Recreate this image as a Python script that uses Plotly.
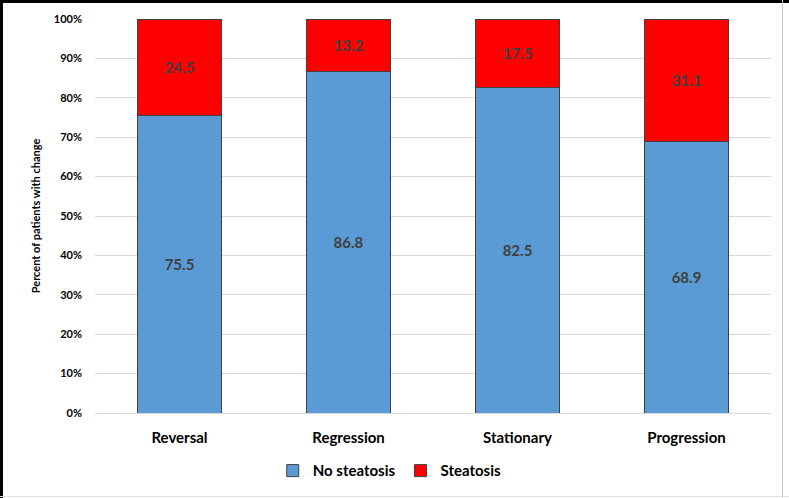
import plotly.graph_objects as go

categories = ["Reversal", "Regression", "Stationary", "Progression"]
no_steatosis = [75.5, 86.8, 82.5, 68.9]
steatosis = [24.5, 13.2, 17.5, 31.1]
y_ticks = [0, 10, 20, 30, 40, 50, 60, 70, 80, 90, 100]

FONT = "Lato, Liberation Sans, sans-serif"
W, H = 789, 498
L, R, T, B = 95, 18, 19, 85

fig = go.Figure()
fig.add_trace(go.Bar(
    x=categories, y=no_steatosis, name="No steatosis",
    marker=dict(color="#5B9BD5", line=dict(color="#404040", width=1)),
    text=[f"{v:.1f}" for v in no_steatosis], textposition="inside",
    insidetextanchor="middle",
    textfont=dict(family=FONT, size=15, color="#404040", weight="bold"),
))
fig.add_trace(go.Bar(
    x=categories, y=steatosis, name="Steatosis",
    marker=dict(color="#FF0000", line=dict(color="#404040", width=1)),
    text=[f"{v:.1f}" for v in steatosis], textposition="inside",
    insidetextanchor="middle",
    textfont=dict(family=FONT, size=15, color="#404040", weight="bold"),
))

fig.update_layout(
    width=W, height=H,
    barmode="stack", bargap=0.5,
    plot_bgcolor="white", paper_bgcolor="white",
    margin=dict(l=L, r=R, t=T, b=B, autoexpand=False),
    font=dict(family=FONT, color="black"),
    uniformtext=dict(mode="show", minsize=8),
    xaxis=dict(
        tickfont=dict(family=FONT, size=15, color="black", weight="bold"),
        showline=False, ticks="", showgrid=False, ticklabelstandoff=14,
    ),
    yaxis=dict(
        range=[0, 100], tickvals=y_ticks,
        ticktext=[f"{v}%" for v in y_ticks],
        tickfont=dict(family=FONT, size=11, color="black", weight="bold"),
        showgrid=True, gridcolor="#D9D9D9", gridwidth=1,
        zeroline=True, zerolinecolor="#D9D9D9", zerolinewidth=1,
        ticks="", ticklen=0, showline=False, ticklabelstandoff=12,
        title=dict(text="Percent of patients with change",
                   font=dict(family=FONT, size=11, color="black", weight="bold"),
                   standoff=10),
    ),
    legend=dict(
        orientation="h", x=0.436, xanchor="center", y=-0.105, yanchor="top",
        font=dict(family=FONT, size=15, color="black", weight="bold"),
        traceorder="normal", itemwidth=30,
    ),
)

frame_js = """
document.body.style.margin='0';
document.body.style.overflow='hidden';
function bar(css){var d=document.createElement('div');d.style.cssText='position:fixed;pointer-events:none;z-index:10;'+css;document.body.appendChild(d);}
bar('left:0;top:0;width:100%;height:3px;background:#000;');
bar('left:0;top:0;width:3px;height:100%;background:#000;');
bar('left:782px;top:0;width:1px;height:100%;background:#C8C8C8;');
bar('left:0;top:496px;width:100%;height:1px;background:#E0E0E0;');
"""

fig.write_html("out.html", config={"displayModeBar": False}, post_script=frame_js)
